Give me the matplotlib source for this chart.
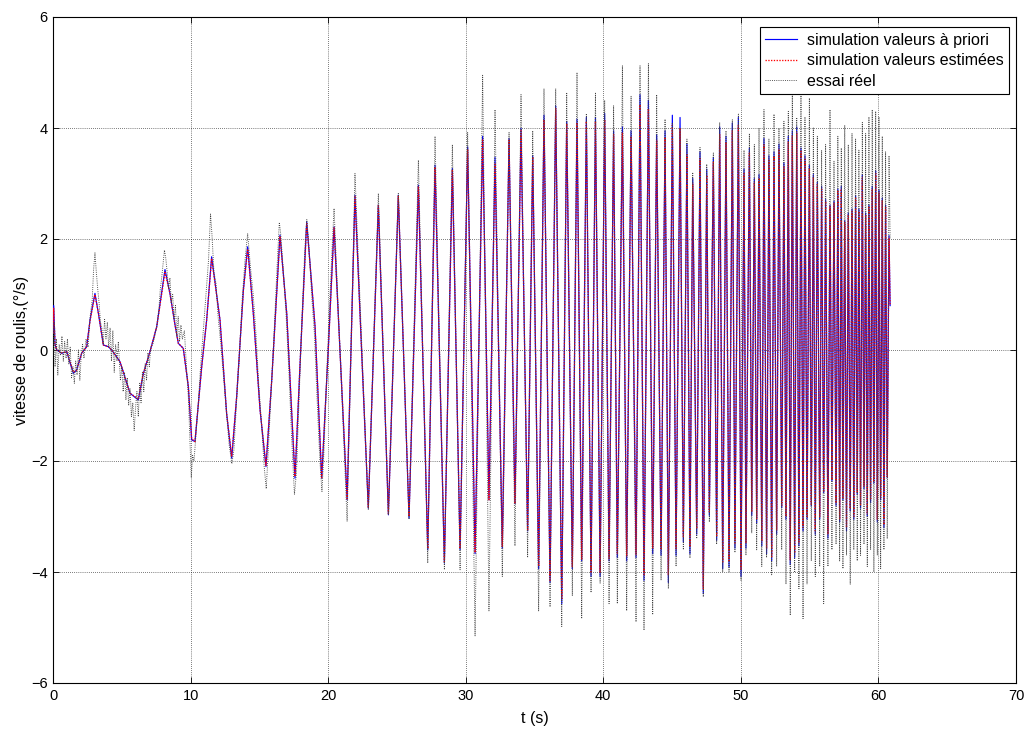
import numpy as np
import matplotlib
matplotlib.use("Agg")
import matplotlib.pyplot as plt

# ---------------- data ----------------
# early part of the simulated roll rate (a priori), 0 .. 20 s
t_sim_early = [0.00, 0.05, 0.15, 0.27, 0.63, 1.00, 1.48, 1.72, 2.08, 2.45, 2.69, 3.05,
               3.30, 3.66, 4.02, 4.27, 4.87, 5.60, 6.20, 6.57, 7.05, 7.54, 8.14, 8.50,
               8.87, 9.11, 9.47, 9.84, 10.08, 10.32, 10.81, 11.17, 11.53, 12.14, 12.62,
               12.99, 13.35, 13.84, 14.15, 14.56, 15.05, 15.48, 15.90, 16.50, 16.99,
               17.59, 17.96, 18.44, 19.05, 19.53, 20.02]
v_sim_early = [0.30, 0.80, 0.10, 0.00, -0.06, -0.03, -0.42, -0.36, -0.06, 0.06, 0.54, 1.02,
               0.66, 0.09, 0.06, 0.00, -0.21, -0.78, -0.90, -0.42, -0.03, 0.42, 1.45, 1.02,
               0.45, 0.12, 0.03, -0.66, -1.62, -1.65, -0.30, 0.54, 1.68, 0.54, -1.14,
               -1.95, -0.84, 1.08, 1.86, 0.66, -1.08, -2.10, -0.54, 2.07, 0.66,
               -2.31, -0.24, 2.31, 0.42, -2.31, 0.06]
v_est_early = [0.30, 0.75, 0.10, 0.00, -0.05, -0.03, -0.40, -0.36, -0.06, 0.06, 0.52, 1.00,
               0.66, 0.09, 0.06, 0.00, -0.21, -0.78, -0.88, -0.42, -0.03, 0.42, 1.40, 1.02,
               0.45, 0.12, 0.03, -0.66, -1.60, -1.65, -0.30, 0.54, 1.65, 0.54, -1.14,
               -1.92, -0.84, 1.08, 1.82, 0.66, -1.08, -2.08, -0.54, 2.05, 0.66,
               -2.28, -0.24, 2.28, 0.42, -2.30, 0.06]

# early part of the measured signal (essai reel), 0 .. 20.3 s
t_gray_early = [0.00, 0.08, 0.15, 0.25, 0.35, 0.45, 0.55, 0.65, 0.75, 0.85, 0.95, 1.05,
                1.15, 1.25, 1.35, 1.45, 1.55, 1.65, 1.75, 1.85, 1.95, 2.05, 2.15, 2.25,
                2.40, 2.55, 2.70, 2.85, 2.95, 3.05, 3.15, 3.25, 3.35, 3.45, 3.55, 3.65,
                3.75, 3.85, 3.95, 4.05, 4.15, 4.25, 4.35, 4.45, 4.55, 4.65, 4.75, 4.90,
                5.00, 5.10, 5.20, 5.30, 5.40, 5.50, 5.60, 5.70, 5.80, 5.90, 6.00, 6.10,
                6.20, 6.30, 6.40, 6.50, 6.60, 6.70, 6.80, 6.90, 7.00, 7.10, 7.25, 7.40,
                7.55, 7.70, 7.80, 7.90, 8.00, 8.10, 8.20, 8.30, 8.40, 8.50, 8.60, 8.70,
                8.80, 8.90, 9.00, 9.10, 9.20, 9.30, 9.40, 9.55, 9.70, 9.85, 9.95, 10.05,
                10.15, 10.25, 10.40, 10.55, 10.70, 10.85, 11.00, 11.15, 11.30, 11.45,
                11.55, 11.70, 11.85, 12.00, 12.20, 12.40, 12.60, 12.80, 13.00, 13.15,
                13.35, 13.55, 13.75, 13.95, 14.15, 14.35, 14.55, 14.75, 14.95, 15.15,
                15.35, 15.50, 15.65, 15.85, 16.05, 16.25, 16.45, 16.55, 16.75, 16.95,
                17.15, 17.35, 17.55, 17.70, 17.90, 18.10, 18.30, 18.45, 18.60, 18.80,
                19.00, 19.20, 19.40, 19.55, 19.70, 19.90, 20.10, 20.30]
v_gray_early = [-0.10, 0.50, -0.30, 0.20, -0.45, 0.10, -0.10, 0.25, -0.20, 0.15, -0.15, 0.20,
                -0.25, 0.05, -0.50, -0.30, -0.60, -0.20, -0.45, 0.00, -0.55, -0.10, 0.10, -0.15,
                0.20, 0.05, 0.60, 0.90, 1.45, 1.75, 1.40, 1.10, 0.85, 0.50, 0.40, 0.10,
                0.55, 0.20, 0.50, 0.05, 0.40, -0.20, 0.35, -0.40, 0.10, -0.20, 0.15, -0.55,
                -0.30, -0.75, -0.40, -0.90, -0.50, -1.00, -0.70, -1.20, -0.95, -1.45, -1.05, -0.75,
                -1.20, -0.60, -0.95, -0.40, -0.75, -0.25, -0.55, -0.05, -0.30, 0.05, 0.10, 0.25,
                0.45, 0.75, 1.10, 1.30, 1.55, 1.80, 1.65, 1.40, 1.10, 1.30, 0.85, 1.00,
                0.55, 0.80, 0.25, 0.60, 0.15, 0.45, 0.20, 0.35, -0.30, -0.90, -1.60, -2.30,
                -1.90, -2.00, -1.50, -1.00, -0.40, 0.10, 0.60, 1.10, 1.60, 2.45,
                2.10, 1.40, 1.20, 0.60, 0.10, -0.50, -1.10, -1.70, -2.05, -1.80,
                -0.90, -0.10, 0.90, 1.60, 2.10, 1.50, 1.00, 0.30, -0.60, -1.30,
                -2.10, -2.50, -1.80, -0.80, 0.20, 1.30, 2.30, 2.10, 1.40, 0.60,
                -0.40, -1.60, -2.60, -2.20, -0.80, 0.60, 1.80, 2.35, 1.90, 1.00,
                0.30, -0.90, -2.00, -2.55, -1.80, -0.40, 0.80, 1.90]

# successive peaks / troughs, 20.4 .. 60.9 s
t_ext = [20.43, 21.38, 21.95, 22.92, 23.65, 24.38, 25.10, 25.88, 26.56, 27.24, 27.77, 28.45,
         29.03, 29.59, 30.14, 30.68, 31.23, 31.69, 32.13, 32.66, 33.15, 33.58, 34.02, 34.50,
         34.87, 35.30, 35.69, 36.13, 36.54, 36.98, 37.34, 37.75, 38.09, 38.43, 38.77, 39.11,
         39.43, 39.77, 40.10, 40.42, 40.75, 41.02, 41.39, 41.70, 42.02, 42.38, 42.67, 42.96,
         43.28, 43.59, 43.88, 44.20, 44.49, 44.73, 45.02, 45.29, 45.58, 45.82, 46.08, 46.30,
         46.50, 46.79, 47.03, 47.27, 47.52, 47.71, 48.00, 48.24, 48.46, 48.68, 48.92, 49.14,
         49.38, 49.57, 49.82, 50.01, 50.23, 50.37, 50.62, 50.79, 50.98, 51.15, 51.32, 51.52,
         51.68, 51.87, 52.04, 52.24, 52.41, 52.60, 52.77, 52.97, 53.13, 53.28, 53.45, 53.59,
         53.74, 53.91, 54.06, 54.22, 54.37, 54.52, 54.66, 54.81, 54.98, 55.12, 55.27, 55.41,
         55.56, 55.73, 55.87, 56.02, 56.16, 56.33, 56.48, 56.62, 56.77, 56.92, 57.05, 57.18,
         57.30, 57.42, 57.55, 57.68, 57.81, 57.95, 58.08, 58.21, 58.34, 58.46, 58.58, 58.70,
         58.83, 58.95, 59.07, 59.19, 59.31, 59.43, 59.55, 59.67, 59.80, 59.92, 60.04, 60.16,
         60.28, 60.40, 60.52, 60.64, 60.77, 60.85]
v_sim_ext = [2.22, -2.70, 2.79, -2.85, 2.61, -2.97, 2.79, -3.03, 2.97, -3.60, 3.33, -3.84,
             3.27, -3.60, 3.66, -3.67, 3.85, -2.70, 3.47, -3.57, 3.81, -2.77, 3.99, -3.26,
             3.50, -3.94, 4.23, -4.19, 4.40, -4.57, 4.12, -3.94, 4.16, -3.80, 4.19, -4.08,
             4.19, -4.08, 4.26, -3.80, 3.95, -3.74, 4.02, -3.80, 3.95, -3.74, 4.60, -4.15,
             4.50, -3.67, 3.88, -3.70, 3.95, -4.19, 4.23, -3.70, 4.19, -3.46, 3.71, -3.67,
             3.09, -3.32, 3.57, -4.39, 3.26, -2.98, 3.47, -3.43, 4.02, -3.94, 3.85, -3.91,
             4.09, -3.57, 4.19, -4.08, 3.26, -3.57, 3.64, -2.98, 3.09, -3.12, 3.16, -3.53,
             3.81, -3.67, 3.50, -3.80, 3.57, -3.32, 3.71, -2.84, 3.37, -3.05, 3.85, -3.87,
             3.95, -3.74, 4.02, -3.53, 3.64, -3.26, 3.50, -3.05, 3.33, -2.81, 3.16, -3.32,
             3.02, -3.05, 2.95, -2.57, 2.71, -3.39, 2.61, -2.36, 2.68, -2.80, 2.90, -3.10,
             2.95, -2.70, 2.33, -3.26, 2.47, -2.90, 2.54, -3.05, 2.78, -2.60, 2.54, -2.85,
             3.16, -2.50, 2.47, -3.00, 2.61, -2.75, 2.95, -2.40, 3.23, -3.10, 2.88, -2.70,
             2.74, -3.20, 2.61, -2.30, 2.06, 0.80]
v_est_ext = [2.20, -2.68, 2.76, -2.83, 2.60, -2.95, 2.77, -3.00, 2.95, -3.58, 3.30, -3.82,
             3.25, -3.58, 3.62, -3.65, 3.80, -2.70, 3.35, -3.55, 3.78, -2.77, 3.95, -3.24,
             3.48, -3.90, 4.15, -4.15, 4.35, -4.50, 4.08, -3.90, 4.10, -3.78, 4.12, -4.02,
             4.12, -4.02, 4.15, -3.76, 3.88, -3.66, 3.92, -3.72, 3.85, -3.68, 4.42, -4.05,
             4.35, -3.58, 3.78, -3.60, 3.82, -4.05, 4.05, -3.58, 4.00, -3.36, 3.52, -3.55,
             3.00, -3.22, 3.45, -4.30, 3.15, -2.92, 3.38, -3.35, 3.88, -3.82, 3.75, -3.80,
             3.95, -3.48, 4.05, -3.95, 3.18, -3.48, 3.55, -2.92, 3.02, -3.05, 3.10, -3.45,
             3.70, -3.58, 3.42, -3.72, 3.50, -3.25, 3.62, -2.80, 3.30, -3.00, 3.76, -3.78,
             3.86, -3.66, 3.92, -3.46, 3.58, -3.20, 3.44, -3.00, 3.28, -2.78, 3.12, -3.26,
             2.98, -3.00, 2.90, -2.54, 2.68, -3.32, 2.58, -2.34, 2.64, -2.76, 2.86, -3.05,
             2.90, -2.66, 2.30, -3.20, 2.44, -2.86, 2.50, -3.00, 2.74, -2.56, 2.50, -2.80,
             3.10, -2.46, 2.44, -2.95, 2.57, -2.70, 2.90, -2.36, 3.18, -3.05, 2.84, -2.66,
             2.70, -3.15, 2.57, -2.28, 2.02, 0.80]
v_gray_ext = [2.55, -3.09, 3.18, -2.88, 2.82, -2.97, 2.82, -3.05, 3.42, -3.84, 3.85, -3.96,
              3.70, -3.96, 3.92, -5.15, 4.95, -4.70, 4.33, -4.08, 3.92, -3.53, 4.60, -3.74,
              3.95, -4.70, 4.71, -4.63, 4.71, -4.98, 4.64, -4.43, 5.00, -4.84, 4.26, -4.37,
              4.64, -4.20, 4.50, -4.57, 4.40, -4.57, 5.12, -4.70, 4.57, -4.90, 5.12, -5.05,
              5.16, -4.77, 4.60, -4.15, 4.16, -4.30, 4.10, -3.90, 4.00, -3.60, 3.80, -3.75,
              3.20, -3.40, 3.65, -4.45, 3.35, -3.10, 3.55, -3.50, 4.10, -4.00, 3.95, -4.00,
              4.15, -3.65, 4.25, -4.15, 3.60, -3.70, 3.90, -3.30, 3.70, -3.60, 4.00, -3.90,
              4.33, -3.74, 3.80, -4.05, 4.25, -3.90, 4.00, -3.60, 4.12, -4.22, 4.30, -4.78,
              4.68, -4.01, 4.19, -4.30, 4.74, -4.84, 4.20, -4.22, 4.54, -3.80, 4.00, -4.08,
              3.85, -3.90, 3.60, -4.57, 3.70, -3.90, 4.33, -3.60, 3.40, -3.50, 3.85, -3.80,
              3.64, -3.94, 4.05, -3.70, 3.70, -4.22, 3.90, -3.60, 3.80, -3.80, 3.60, -3.70,
              4.10, -3.50, 3.90, -3.90, 4.20, -3.60, 4.33, -4.00, 4.30, -3.70, 4.20, -3.94,
              3.85, -3.60, 3.57, -3.40, 3.50, 2.00]

x_ticks = [0, 10, 20, 30, 40, 50, 60, 70]
y_ticks = [-6, -4, -2, 0, 2, 4, 6]
labels = ["simulation valeurs à priori", "simulation valeurs estimées", "essai réel"]
x_label = "t (s)"
y_label = "vitesse de roulis,(°/s)"

# ---------------- plot ----------------
plt.rcParams['font.family'] = ['Liberation Sans', 'DejaVu Sans']
plt.rcParams['font.size'] = 11

fig = plt.figure(figsize=(10.32, 7.31), dpi=100)
ax = fig.add_axes([53 / 1032, 1 - 683 / 731, (1016 - 53) / 1032, (683 - 17) / 731])

t_sim = np.concatenate([t_sim_early, t_ext])
v_sim = np.concatenate([v_sim_early, v_sim_ext])
v_est = np.concatenate([v_est_early, v_est_ext])
t_gray = np.concatenate([t_gray_early, t_ext])
v_gray = np.concatenate([v_gray_early, v_gray_ext])

ax.plot(t_sim, v_sim, color='#0000ff', lw=0.85, ls='-', label=labels[0], zorder=3)
ax.plot(t_sim, v_est, color='#ff0000', lw=0.95, ls=(0, (1, 1.1)), label=labels[1], zorder=4)
ax.plot(t_gray, v_gray, color='#404040', lw=0.65, ls=(0, (1, 1.4)), label=labels[2], zorder=5)

ax.set_xlim(0, 70)
ax.set_ylim(-6, 6)
ax.set_xticks(x_ticks)
ax.set_yticks(y_ticks)
ax.grid(True, color='black', ls=(0, (1, 2)), lw=0.5)
ax.tick_params(direction='in', length=4, width=0.6, top=True, right=True,
               labelsize=10.5, pad=4)
for s in ax.spines.values():
    s.set_linewidth(0.8)

ax.set_xlabel(x_label, fontsize=11.5, labelpad=6)
ax.set_ylabel(y_label, fontsize=11.5, labelpad=1)

leg = ax.legend(loc='upper right', bbox_to_anchor=((1009 - 53) / 963, (683 - 27) / 666),
                fontsize=11.5, fancybox=False, edgecolor='black',
                framealpha=1, borderaxespad=0.0, handlelength=2.0, handletextpad=0.6,
                labelspacing=0.35, borderpad=0.35)
leg.get_frame().set_linewidth(0.8)

fig.savefig("out.png", dpi=100)
